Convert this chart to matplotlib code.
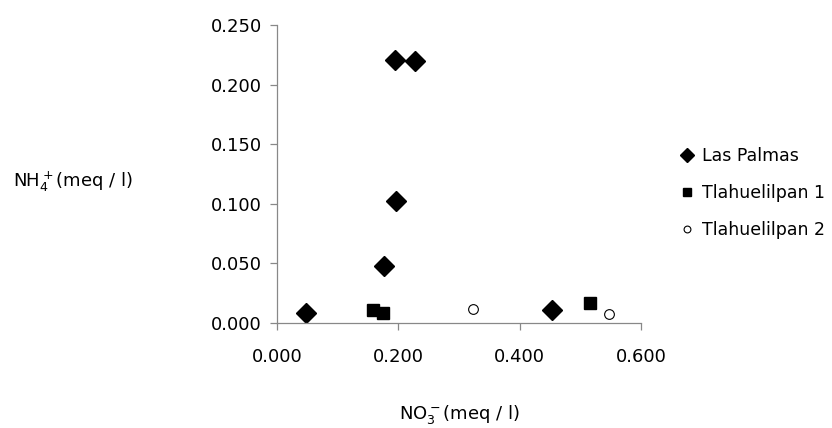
import matplotlib
matplotlib.use("Agg")
import matplotlib.pyplot as plt
from matplotlib.ticker import FormatStrFormatter

plt.rcParams['font.family'] = ['DejaVu Sans']
plt.rcParams['mathtext.default'] = 'regular'

series_names = ["Las Palmas", "Tlahuelilpan 1", "Tlahuelilpan 2"]
las_palmas_x = [0.047, 0.176, 0.196, 0.195, 0.227, 0.453]
las_palmas_y = [0.0084, 0.0475, 0.102, 0.221, 0.220, 0.0112]
tlah1_x = [0.159, 0.175, 0.516]
tlah1_y = [0.0106, 0.0084, 0.0168]
tlah2_x = [0.323, 0.547]
tlah2_y = [0.0117, 0.0078]
x_ticks = [0.0, 0.2, 0.4, 0.6]
y_ticks = [0.0, 0.05, 0.10, 0.15, 0.20, 0.25]

fig = plt.figure(figsize=(8.32, 4.28), dpi=100)
ax = fig.add_axes([277/832, 1-323/428, (641-277)/832, (323-25)/428])

ax.plot(las_palmas_x, las_palmas_y, linestyle='none', marker='D', ms=10.5,
        color='black', label=series_names[0])
ax.plot(tlah1_x, tlah1_y, linestyle='none', marker='s', ms=8.5,
        color='black', label=series_names[1])
ax.plot(tlah2_x, tlah2_y, linestyle='none', marker='o', ms=7,
        markerfacecolor='white', markeredgecolor='black', markeredgewidth=0.8,
        label=series_names[2])

ax.set_xlim(0, 0.6)
ax.set_ylim(0, 0.25)
ax.set_xticks(x_ticks)
ax.set_yticks(y_ticks)
ax.xaxis.set_major_formatter(FormatStrFormatter('%.3f'))
ax.yaxis.set_major_formatter(FormatStrFormatter('%.3f'))
for s in ['top', 'right']:
    ax.spines[s].set_visible(False)
for s in ['left', 'bottom']:
    ax.spines[s].set_color('#888888')
    ax.spines[s].set_linewidth(0.9)
ax.tick_params(axis='both', direction='out', length=5, width=0.9, color='#888888',
               labelsize=13, labelcolor='black')
ax.tick_params(axis='x', pad=13)
ax.tick_params(axis='y', pad=6)
for ln in ax.lines:
    ln.set_clip_on(False)

fig.text(13/832, 1-182/428, r'NH$_4^+$(meq / l)', fontsize=13, ha='left', va='center')
fig.text(459/832, 1-414/428, r'NO$_3^-$(meq / l)', fontsize=13, ha='center', va='center')

leg = fig.legend(loc='upper left', bbox_to_anchor=(673/832, 1-140/428), frameon=False,
                 fontsize=12.5, markerscale=0.7, handlelength=0.8, handletextpad=0.45,
                 labelspacing=1.1, borderaxespad=0)

fig.savefig('out.png', dpi=100)
